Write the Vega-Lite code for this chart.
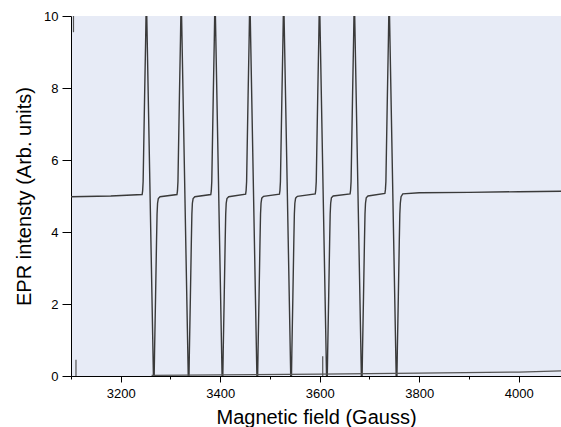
{
  "$schema": "https://vega.github.io/schema/vega-lite/v6.json",
  "autosize": "none",
  "width": 490,
  "height": 360,
  "padding": {"left": 71, "top": 16, "right": 0, "bottom": 51},
  "background": "white",
  "config": {
    "font": "Liberation Sans",
    "view": {"fill": "#e7ebf6", "stroke": null},
    "axis": {"grid": false, "domainColor": "#000000", "tickColor": "#000000", "labelColor": "#000000", "titleColor": "#000000", "labelFont": "Liberation Sans", "titleFont": "Liberation Sans", "titleFontWeight": "normal"}
  },
  "datasets": {
    "spectrum": [
      {"B": 3100, "I": 4.98}, {"B": 3180, "I": 5.0},
      {"B": 3243, "I": 5.04}, {"B": 3244, "I": 5.14}, {"B": 3245, "I": 5.4}, {"B": 3246, "I": 6.2}, {"B": 3248, "I": 7.8}, {"B": 3250, "I": 9.3}, {"B": 3251.5, "I": 10.6}, {"B": 3266.5, "I": -0.6}, {"B": 3268, "I": 0.7}, {"B": 3270, "I": 2.2}, {"B": 3272, "I": 3.8}, {"B": 3273, "I": 4.5}, {"B": 3274, "I": 4.8}, {"B": 3275.5, "I": 4.93}, {"B": 3279, "I": 4.98},
      {"B": 3313, "I": 5.04}, {"B": 3314, "I": 5.14}, {"B": 3315, "I": 5.4}, {"B": 3316, "I": 6.2}, {"B": 3318, "I": 7.8}, {"B": 3320, "I": 9.3}, {"B": 3321.5, "I": 10.6}, {"B": 3336.5, "I": -0.6}, {"B": 3338, "I": 0.7}, {"B": 3340, "I": 2.2}, {"B": 3342, "I": 3.8}, {"B": 3343, "I": 4.5}, {"B": 3344, "I": 4.8}, {"B": 3345.5, "I": 4.93}, {"B": 3349, "I": 4.98},
      {"B": 3381, "I": 5.04}, {"B": 3382, "I": 5.14}, {"B": 3383, "I": 5.4}, {"B": 3384, "I": 6.2}, {"B": 3386, "I": 7.8}, {"B": 3388, "I": 9.3}, {"B": 3389.5, "I": 10.6}, {"B": 3404.5, "I": -0.6}, {"B": 3406, "I": 0.7}, {"B": 3408, "I": 2.2}, {"B": 3410, "I": 3.8}, {"B": 3411, "I": 4.5}, {"B": 3412, "I": 4.8}, {"B": 3413.5, "I": 4.93}, {"B": 3417, "I": 4.98},
      {"B": 3451, "I": 5.05}, {"B": 3452, "I": 5.15}, {"B": 3453, "I": 5.4}, {"B": 3454, "I": 6.2}, {"B": 3456, "I": 7.8}, {"B": 3458, "I": 9.3}, {"B": 3459.5, "I": 10.6}, {"B": 3474.5, "I": -0.6}, {"B": 3476, "I": 0.7}, {"B": 3478, "I": 2.2}, {"B": 3480, "I": 3.8}, {"B": 3481, "I": 4.5}, {"B": 3482, "I": 4.8}, {"B": 3483.5, "I": 4.94}, {"B": 3487, "I": 4.99},
      {"B": 3519, "I": 5.05}, {"B": 3520, "I": 5.15}, {"B": 3521, "I": 5.4}, {"B": 3522, "I": 6.2}, {"B": 3524, "I": 7.8}, {"B": 3526, "I": 9.3}, {"B": 3527.5, "I": 10.6}, {"B": 3542.5, "I": -0.6}, {"B": 3544, "I": 0.7}, {"B": 3546, "I": 2.2}, {"B": 3548, "I": 3.8}, {"B": 3549, "I": 4.5}, {"B": 3550, "I": 4.8}, {"B": 3551.5, "I": 4.94}, {"B": 3555, "I": 4.99},
      {"B": 3591, "I": 5.06}, {"B": 3592, "I": 5.16}, {"B": 3593, "I": 5.4}, {"B": 3594, "I": 6.2}, {"B": 3596, "I": 7.8}, {"B": 3598, "I": 9.3}, {"B": 3599.5, "I": 10.6}, {"B": 3614.5, "I": -0.6}, {"B": 3616, "I": 0.7}, {"B": 3618, "I": 2.2}, {"B": 3620, "I": 3.8}, {"B": 3621, "I": 4.5}, {"B": 3622, "I": 4.8}, {"B": 3623.5, "I": 4.95}, {"B": 3627, "I": 5.0},
      {"B": 3661, "I": 5.06}, {"B": 3662, "I": 5.16}, {"B": 3663, "I": 5.4}, {"B": 3664, "I": 6.2}, {"B": 3666, "I": 7.8}, {"B": 3668, "I": 9.3}, {"B": 3669.5, "I": 10.6}, {"B": 3684.5, "I": -0.6}, {"B": 3686, "I": 0.7}, {"B": 3688, "I": 2.2}, {"B": 3690, "I": 3.8}, {"B": 3691, "I": 4.5}, {"B": 3692, "I": 4.8}, {"B": 3693.5, "I": 4.95}, {"B": 3697, "I": 5.0},
      {"B": 3731, "I": 5.07}, {"B": 3732, "I": 5.17}, {"B": 3733, "I": 5.4}, {"B": 3734, "I": 6.2}, {"B": 3736, "I": 7.8}, {"B": 3738, "I": 9.3}, {"B": 3739.5, "I": 10.6}, {"B": 3754.5, "I": -0.6}, {"B": 3756, "I": 0.7}, {"B": 3758, "I": 2.2}, {"B": 3760, "I": 3.8}, {"B": 3761, "I": 4.5}, {"B": 3762, "I": 4.8}, {"B": 3763.5, "I": 4.98}, {"B": 3767, "I": 5.06}, {"B": 3800, "I": 5.09}, {"B": 3900, "I": 5.1}, {"B": 4000, "I": 5.12}, {"B": 4085, "I": 5.13}
    ],
    "bottomTrace": [
      {"B": 3262, "I": 0.02}, {"B": 3400, "I": 0.03}, {"B": 3600, "I": 0.05}, {"B": 3800, "I": 0.08}, {"B": 4000, "I": 0.11}, {"B": 4085, "I": 0.14}
    ],
    "marks": [
      {"B": 3110, "lo": 0, "hi": 0.45},
      {"B": 3606, "lo": 0, "hi": 0.55},
      {"B": 3105, "lo": 9.55, "hi": 10}
    ]
  },
  "layer": [
    {
      "data": {"name": "spectrum"},
      "mark": {"type": "line", "color": "#3a3a3a", "strokeWidth": 1.4, "clip": true},
      "encoding": {
        "x": {
          "field": "B", "type": "quantitative",
          "scale": {"domain": [3100, 4085], "nice": false, "zero": false},
          "axis": {
            "title": "Magnetic field (Gauss)",
            "titleFontSize": 20,
            "titlePadding": 7,
            "values": [3100, 3200, 3300, 3400, 3500, 3600, 3700, 3800, 3900, 4000],
            "format": "d",
            "labelExpr": "datum.value % 200 === 0 ? datum.label : ''",
            "labelFontSize": 13,
            "labelPadding": 5,
            "labelFlush": false,
            "tickSize": {"condition": {"test": "datum.value % 200 === 0", "value": 6}, "value": 3}
          }
        },
        "y": {
          "field": "I", "type": "quantitative",
          "scale": {"domain": [0, 10], "nice": false},
          "axis": {
            "title": "EPR intensty (Arb. units)",
            "titleFontSize": 20,
            "titlePadding": 9,
            "values": [0, 1, 2, 3, 4, 5, 6, 7, 8, 9, 10],
            "labelExpr": "datum.value % 2 === 0 ? datum.label : ''",
            "labelFontSize": 13,
            "labelPadding": 4,
            "tickSize": {"condition": {"test": "datum.value % 2 === 0", "value": 9}, "value": 5}
          }
        }
      }
    },
    {
      "data": {"name": "bottomTrace"},
      "mark": {"type": "line", "color": "#555555", "strokeWidth": 1.3, "clip": true},
      "encoding": {"x": {"field": "B", "type": "quantitative"}, "y": {"field": "I", "type": "quantitative"}}
    },
    {
      "data": {"name": "marks"},
      "mark": {"type": "rule", "color": "#555555", "strokeWidth": 1.2, "clip": true},
      "encoding": {"x": {"field": "B", "type": "quantitative"}, "y": {"field": "lo", "type": "quantitative"}, "y2": {"field": "hi"}}
    }
  ]
}
